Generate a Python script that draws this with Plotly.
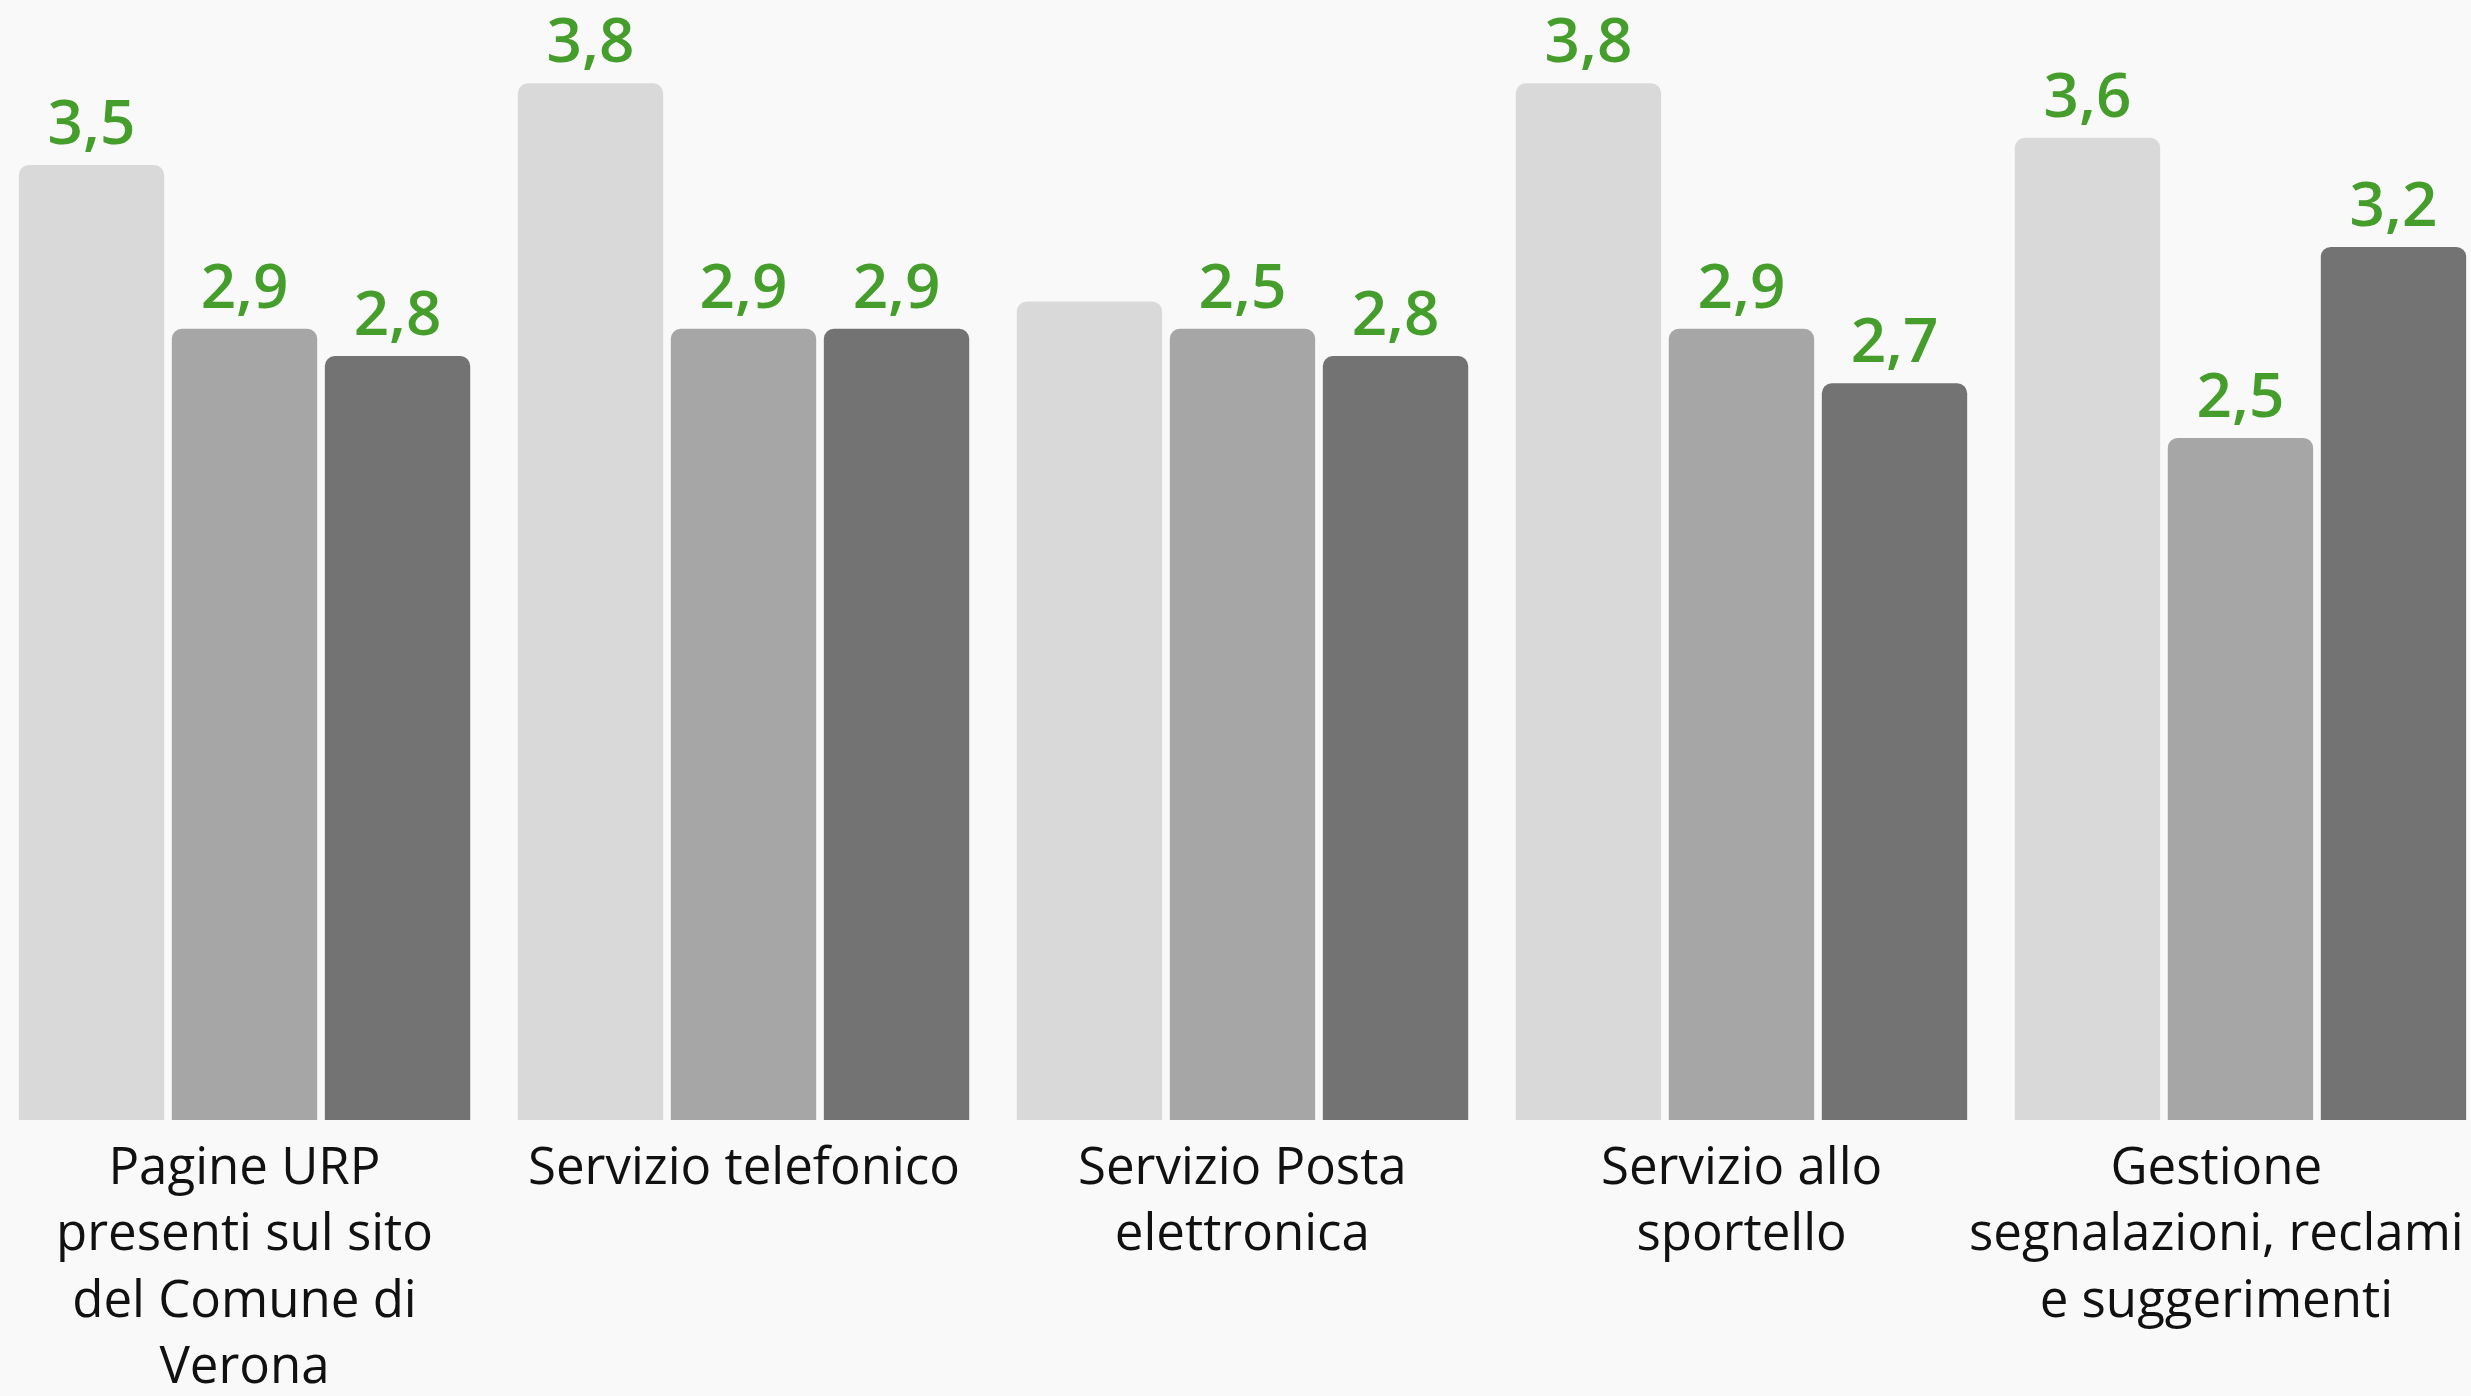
import plotly.graph_objects as go

# Categorie (asse x)
categorie = [
    "Pagine URP<br>presenti sul sito<br>del Comune di<br>Verona",
    "Servizio telefonico",
    "Servizio Posta<br>elettronica",
    "Servizio allo<br>sportello",
    "Gestione<br>segnalazioni, reclami<br>e suggerimenti",
]

# Valori delle tre serie (altezze)
serie_1 = [3.5, 3.8, 3.0, 3.8, 3.6]
serie_2 = [2.9, 2.9, 2.9, 2.9, 2.5]
serie_3 = [2.8, 2.9, 2.8, 2.7, 3.2]

# Etichette mostrate sopra le barre (come nell'originale)
etichette_1 = ["3,5", "3,8", "", "3,8", "3,6"]
etichette_2 = ["2,9", "2,9", "2,5", "2,9", "2,5"]
etichette_3 = ["2,8", "2,9", "2,8", "2,7", "3,2"]

colori = ["#d9d9d9", "#a6a6a6", "#737373"]
verde = "#459d2b"

fig = go.Figure()
for valori, etichette, colore in zip([serie_1, serie_2, serie_3],
                                     [etichette_1, etichette_2, etichette_3],
                                     colori):
    fig.add_trace(go.Bar(
        x=categorie,
        y=valori,
        text=etichette,
        textposition="outside",
        cliponaxis=False,
        textfont=dict(family="Open Sans", size=62, color=verde, weight=600),
        marker=dict(color=colore, cornerradius=10, line=dict(width=0)),
    ))

# Etichette delle categorie come annotazioni (l'ultima spostata per restare nel riquadro)
for i, cat in enumerate(categorie):
    fig.add_annotation(
        x=cat, y=0, xref="x", yref="paper",
        text=cat, showarrow=False,
        xanchor="center", yanchor="top", align="center",
        xshift=-24 if i == len(categorie) - 1 else 0,
        yshift=-7,
        font=dict(family="Open Sans", size=51, color="#111111"),
    )

fig.update_layout(
    width=2471,
    height=1396,
    barmode="group",
    bargap=0.08,
    bargroupgap=0.05,
    showlegend=False,
    paper_bgcolor="#f9f9f9",
    plot_bgcolor="#f9f9f9",
    margin=dict(l=0, r=0, t=0, b=276, autoexpand=False),
    font=dict(family="Open Sans", color="#111111"),
)

fig.update_xaxes(
    range=[-0.49, 4.462],
    automargin=False,
    showgrid=False,
    showline=False,
    zeroline=False,
    showticklabels=False,
)
fig.update_yaxes(
    range=[0, 4.105],
    automargin=False,
    showgrid=False,
    zeroline=False,
    showticklabels=False,
)

# niente margine bianco attorno alla pagina, niente modebar
fig.write_html(
    "out.html",
    config={"displayModeBar": False},
    post_script="document.body.style.margin='0';",
)
